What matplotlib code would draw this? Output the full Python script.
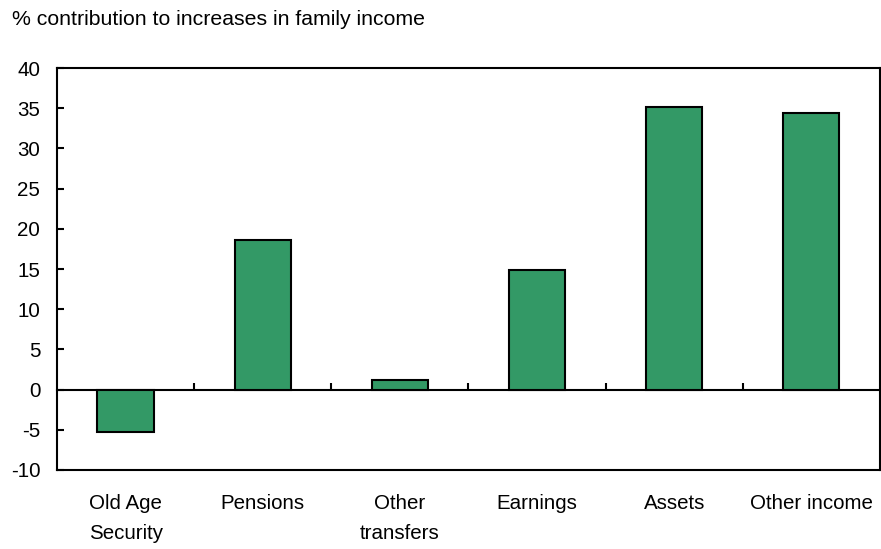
import matplotlib.pyplot as plt
import numpy as np

plt.rcParams['font.family'] = ['Liberation Sans', 'DejaVu Sans']
plt.rcParams['axes.unicode_minus'] = False

categories = ["Old Age\nSecurity", "Pensions", "Other\ntransfers", "Earnings", "Assets", "Other income"]
values = [-5.3, 18.6, 1.2, 14.9, 35.2, 34.4]
yticks = [-10, -5, 0, 5, 10, 15, 20, 25, 30, 35, 40]

fig = plt.figure(figsize=(8.81, 5.49), dpi=100)
ax = fig.add_axes([0.0647, 0.144, 0.934, 0.732])

x = np.arange(len(categories))
ax.bar(x, values, width=0.41, color="#339966", edgecolor="black", linewidth=1.5, zorder=3)

ax.set_xlim(-0.5, len(categories) - 0.5)
ax.set_ylim(-10, 40)
ax.set_yticks(yticks)
ax.set_xticks(x)
ax.set_xticklabels(categories, linespacing=1.7)
ax.tick_params(axis="x", length=0, pad=17.5, labelsize=14.8)
ax.tick_params(axis="y", direction="in", length=5, width=1.5, pad=12, labelsize=14.8)
for s in ax.spines.values():
    s.set_linewidth(1.5)

# zero line with category separator ticks
sec = ax.secondary_xaxis(0.2)
sec.set_xticks(x[:-1] + 0.5)
sec.set_xticklabels([])
sec.tick_params(direction="in", length=5, width=1.5)
sec.spines["bottom"].set_linewidth(1.5)

fig.text(0.0136, 0.982, "% contribution to increases in family income", fontsize=15.3, va="top")

fig.savefig("out.png", dpi=100)
